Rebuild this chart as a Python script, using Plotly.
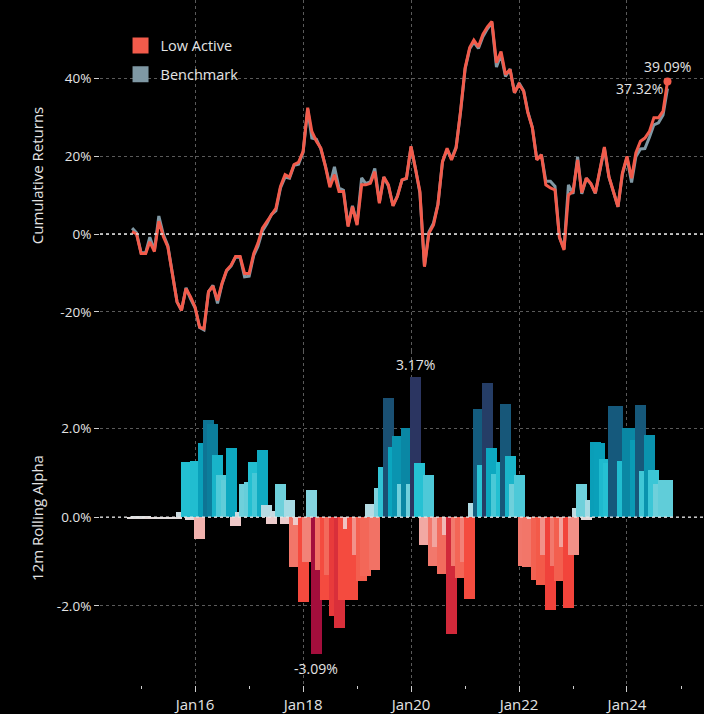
import pandas as pd
import plotly.graph_objects as go
from plotly.subplots import make_subplots

# Monthly observations, Nov 2014 - Oct 2024
dates = pd.date_range("2014-11-01", periods=120, freq="MS")

# Cumulative returns (%)
low_active = [
    0.6, 0.0, -5.0, -5.0, -2.0, -4.5, 3.3, -0.7, -3.3, -10.1,
    -17.4, -19.6, -14.0, -16.1, -18.7, -23.9, -24.3, -14.8, -13.4, -17.0,
    -12.7, -9.3, -8.0, -5.8, -5.8, -10.1, -10.1, -5.0, -2.4, 1.5,
    3.2, 5.0, 6.6, 12.2, 15.2, 14.6, 17.8, 18.4, 21.2, 32.4,
    26.3, 23.8, 22.0, 17.3, 12.0, 15.2, 10.9, 10.9, 1.9, 7.0,
    2.3, 12.6, 12.6, 13.0, 16.0, 7.9, 14.6, 12.6, 7.2, 9.6,
    13.9, 14.3, 22.5, 16.5, 11.0, -8.4, 0.2, 2.3, 7.5, 18.6,
    22.0, 19.0, 22.0, 31.5, 42.6, 47.8, 49.7, 48.0, 51.2, 53.1,
    54.5, 43.9, 46.8, 40.9, 42.2, 36.2, 38.4, 36.6, 31.1, 27.2,
    19.0, 20.3, 12.6, 11.8, 11.3, -0.9, -4.1, 10.0, 10.9, 19.0,
    10.6, 14.3, 13.0, 10.5, 16.5, 22.3, 14.7, 10.9, 7.0, 15.6,
    19.9, 14.3, 20.8, 23.8, 24.6, 26.3, 29.8, 29.8, 31.5, 39.09,
]
benchmark = [
    1.5, 0.3, -4.8, -4.8, -0.8, -4.2, 4.6, -0.2, -3.0, -10.0,
    -17.4, -19.6, -13.8, -16.6, -18.9, -24.0, -24.6, -14.8, -13.2, -17.8,
    -12.9, -9.5, -8.2, -5.9, -6.0, -11.0, -10.8, -5.5, -3.2, 0.8,
    2.6, 5.0, 6.0, 11.8, 14.6, 14.3, 17.6, 17.9, 20.9, 32.0,
    24.6, 24.3, 21.8, 17.5, 12.5, 17.2, 11.8, 11.2, 2.2, 7.2,
    2.6, 14.4, 12.9, 13.4, 16.8, 8.2, 14.6, 12.3, 7.3, 9.8,
    13.8, 14.2, 22.3, 16.6, 10.5, -8.2, 0.5, 2.8, 7.6, 18.5,
    21.6, 19.3, 22.3, 31.2, 42.3, 47.5, 49.2, 47.6, 50.6, 52.6,
    54.2, 42.8, 46.0, 40.4, 42.3, 36.2, 38.7, 36.7, 31.4, 27.3,
    19.1, 20.3, 13.5, 13.5, 12.2, -0.8, -3.8, 12.6, 10.3, 19.8,
    10.3, 14.3, 12.9, 10.4, 16.4, 22.0, 14.6, 10.8, 7.0, 15.3,
    19.6, 13.2, 19.8, 21.8, 21.9, 24.8, 28.0, 28.5, 30.5, 37.32,
]

# 12-month rolling alpha (%)
rolling_alpha = [
    -0.03, 0.02, -0.02, 0.02, -0.05, -0.05, -0.03, -0.03, -0.03, -0.03,
    -0.03, 0.12, 1.25, -0.07, 1.27, -0.50, 1.67, 2.19, 2.10, 1.40,
    0.95, 0.84, 1.56, -0.19, 0.12, 0.75, 0.80, 1.25, 1.00, 1.52,
    0.28, -0.16, 0.15, 0.75, -0.16, 0.39, -1.13, -0.18, -1.90, -1.00,
    0.62, -3.09, -1.18, -1.87, -1.30, -2.23, -2.50, -1.87, -0.26, -1.87,
    -0.84, -1.44, -1.33, 0.30, -1.18, 0.66, 1.13, 2.69, 1.58, 1.83,
    0.74, 2.01, 0.74, 3.17, 1.22, -0.62, 0.96, -1.10, -0.66, -1.27,
    -0.41, -2.62, -1.09, -1.36, -1.00, -1.85, 0.33, 2.44, 1.18, 3.02,
    1.56, 0.98, 1.25, 2.55, 1.38, 0.75, 0.96, -1.10, -1.13, -0.05,
    -1.42, -1.52, -0.84, -2.09, -1.10, -1.44, -0.68, -2.05, -0.86, 0.21,
    0.75, -0.07, 0.39, 1.70, 1.67, 1.31, 1.22, 2.50, 2.50, 1.27,
    2.01, 2.01, 1.74, 2.53, 1.04, 1.85, 1.07, 0.75, 0.84, 0.84,
]

top_ticks = [-20, 0, 20, 40]
top_ticktext = ["-20%", "0%", "20%", "40%"]
bottom_ticks = [-2, 0, 2]
bottom_ticktext = ["-2.0%", "0.0%", "2.0%"]

RED = "#f25b4b"
GREY = "#7f98a4"
TEXT = "#e4e4e4"
GRID = "#5a5a5a"
FONT = "Open Sans"

alpha_scale = [
    [0.000, "#a00d3c"], [0.031, "#a80f3c"], [0.094, "#d42a3a"],
    [0.188, "#f5463b"], [0.266, "#f35b4a"], [0.328, "#f2786c"],
    [0.406, "#f2aaa5"], [0.469, "#f0c8c8"], [0.500, "#dedede"],
    [0.523, "#c8dce2"], [0.563, "#a6dbe4"], [0.625, "#66ceda"],
    [0.688, "#26c2d4"], [0.750, "#0aa5be"], [0.813, "#0a88a5"],
    [0.875, "#135e80"], [0.938, "#1d4a6e"], [1.000, "#2c3360"],
]

fig = make_subplots(rows=2, cols=1, shared_xaxes=True, vertical_spacing=0)

fig.add_trace(go.Scatter(x=dates, y=benchmark, mode="lines",
                         line=dict(color=GREY, width=3), showlegend=False,
                         name="Benchmark"), row=1, col=1)
fig.add_trace(go.Scatter(x=dates, y=low_active, mode="lines",
                         line=dict(color=RED, width=3), showlegend=False,
                         name="Low Active"), row=1, col=1)
fig.add_trace(go.Scatter(x=[dates[-1]], y=[low_active[-1]], mode="markers",
                         marker=dict(color=RED, size=8), showlegend=False),
              row=1, col=1)

bar_width_ms = 74 * 24 * 3600 * 1000
fig.add_trace(go.Bar(x=dates, y=rolling_alpha, width=bar_width_ms,
                     marker=dict(color=rolling_alpha, colorscale=alpha_scale,
                                 cmin=-3.2, cmax=3.2, line=dict(width=0)),
                     showlegend=False), row=2, col=1)

# Legend entries with square swatches
for name, color, grp in [("Low Active", RED, "a"), ("Benchmark", GREY, "b")]:
    fig.add_trace(go.Scatter(x=[None], y=[None], mode="markers", name=name,
                             legendgroup=grp,
                             marker=dict(symbol="square", size=18, color=color)),
                  row=1, col=1)

split = 0.4876
fig.update_layout(
    width=704, height=714,
    margin=dict(l=100, r=0, t=0, b=29),
    paper_bgcolor="#000000", plot_bgcolor="#000000",
    font=dict(family=FONT, color=TEXT, size=13),
    bargap=0, barmode="overlay",
    legend=dict(x=0.034, y=0.957, xanchor="left", yanchor="top",
                bgcolor="rgba(0,0,0,0)", font=dict(size=14.5, color=TEXT),
                traceorder="grouped", tracegroupgap=7, itemwidth=30),
)

xrange = ["2014-03-29", "2025-06-05"]
common_x = dict(range=xrange, showgrid=True, gridcolor=GRID, griddash="dot",
                gridwidth=1, zeroline=False, showline=False,
                tick0="2016-01-01", dtick="M24")
fig.update_xaxes(**common_x, showticklabels=False, ticks="", row=1, col=1)
fig.update_xaxes(**common_x, tickformat="%b%y", ticks="outside", ticklen=6,
                 tickcolor="#cfcfcf", tickfont=dict(size=15, color=TEXT),
                 minor=dict(tick0="2015-01-01", dtick="M12", ticks="outside",
                            ticklen=3, tickcolor="#cfcfcf", showgrid=False),
                 row=2, col=1)

fig.update_yaxes(domain=[split, 1.0], range=[-30, 60], tickvals=top_ticks,
                 ticktext=top_ticktext, showgrid=True, gridcolor=GRID,
                 griddash="dot", zeroline=False, ticks="outside", ticklen=5,
                 tickcolor="#cfcfcf", tickfont=dict(size=13.5, color=TEXT),
                 title=dict(text="Cumulative Returns", standoff=13,
                            font=dict(size=15, color=TEXT)),
                 row=1, col=1)
fig.update_yaxes(domain=[0.0, split], range=[-3.78, 3.745],
                 tickvals=bottom_ticks, ticktext=bottom_ticktext,
                 showgrid=True, gridcolor=GRID, griddash="dot",
                 zeroline=False, ticks="outside", ticklen=5,
                 tickcolor="#cfcfcf", tickfont=dict(size=13.5, color=TEXT),
                 title=dict(text="12m Rolling Alpha", standoff=9,
                            font=dict(size=15, color=TEXT)),
                 row=2, col=1)

# Zero reference lines
for yref in ["y", "y2"]:
    fig.add_shape(type="line", xref="paper", x0=0, x1=1, yref=yref, y0=0, y1=0,
                  line=dict(color="#e6e6e6", width=1.3, dash="dot"), layer="above")

# End-of-period labels
fig.add_annotation(x=dates[-1], y=low_active[-1], xref="x", yref="y",
                   text=f"{low_active[-1]:.2f}%", showarrow=False,
                   xanchor="center", yanchor="bottom", yshift=4,
                   font=dict(size=14, color=TEXT))
fig.add_annotation(x=dates[-1], y=benchmark[-1], xref="x", yref="y",
                   text=f"{benchmark[-1]:.2f}%", showarrow=False,
                   xanchor="right", yanchor="middle", xshift=-2,
                   font=dict(size=14, color=TEXT))

# Extreme alpha labels
i_max = max(range(len(rolling_alpha)), key=lambda i: rolling_alpha[i])
i_min = min(range(len(rolling_alpha)), key=lambda i: rolling_alpha[i])
fig.add_annotation(x=dates[i_max], y=rolling_alpha[i_max], xref="x2", yref="y2",
                   text=f"{rolling_alpha[i_max]:.2f}%", showarrow=False,
                   yanchor="bottom", yshift=1, font=dict(size=14, color=TEXT))
fig.add_annotation(x=dates[i_min], y=rolling_alpha[i_min], xref="x2", yref="y2",
                   text=f"{rolling_alpha[i_min]:.2f}%", showarrow=False,
                   yanchor="top", yshift=-3, font=dict(size=14, color=TEXT))

fig.write_html("out.html")
